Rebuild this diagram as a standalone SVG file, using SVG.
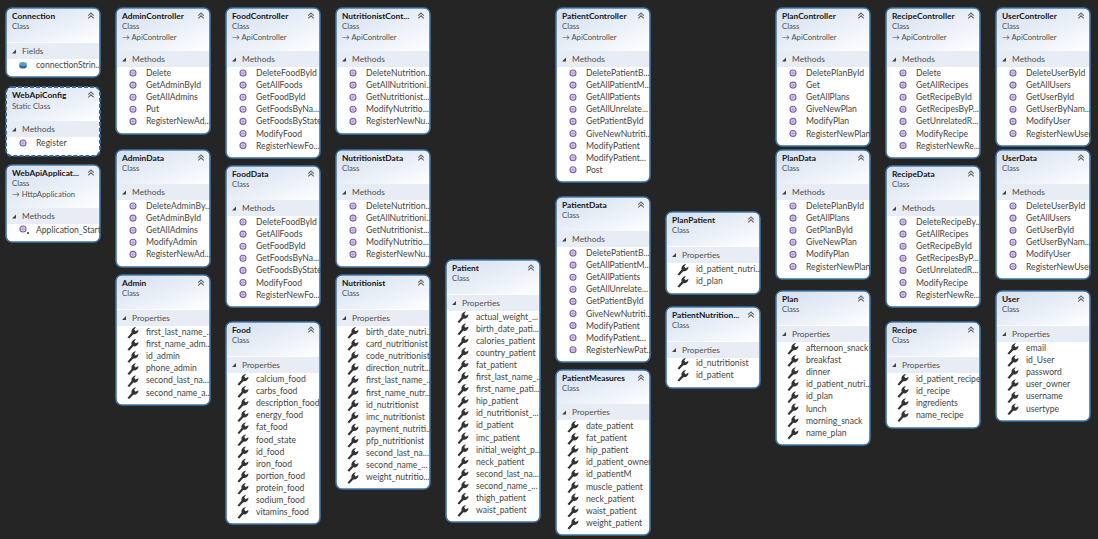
<svg xmlns="http://www.w3.org/2000/svg" width="1098" height="539" viewBox="0 0 1098 539">
<style>
text{font-family:"Lato","Open Sans","Liberation Sans",sans-serif;fill:#444;font-size:8.6px}
.t{font-weight:700;fill:#161616;font-size:8.4px}
.c{font-size:7.7px;fill:#505050}
.s{font-size:8.4px;fill:#505050}
.b{fill:#fff;stroke:#3f76a8;stroke-width:1.6}
.d{stroke-dasharray:4 2;stroke:#2f6aa3;stroke-width:2}
.bd{fill:#e8edf5}
</style>
<defs>
<linearGradient id="hg" x1="0" y1="0" x2="1" y2="1"><stop offset="0" stop-color="#d3dff0"/><stop offset="0.75" stop-color="#f3f6fb"/><stop offset="1" stop-color="#fff"/></linearGradient>
<path id="h34" fill="url(#hg)" d="M1 34V6a5 5 0 0 1 5-5H88a5 5 0 0 1 5 5V34Z"/>
<path id="h43" fill="url(#hg)" d="M1 43V6a5 5 0 0 1 5-5H88a5 5 0 0 1 5 5V43Z"/>
<g id="ch" fill="none" stroke="#666" stroke-width="1.1"><path d="M82.2 7.6L85 5L87.8 7.6"/><path d="M82.2 10.4L85 7.8L87.8 10.4"/></g>
<path id="tr" fill="#444" d="M10 -2V2H6Z"/>
<g id="m"><circle r="3" fill="#e4dcef" stroke="#7b5ea7" stroke-width="1.1"/><path d="M-2.2 0H2.2M0 -2V2" stroke="#9a84bd" stroke-width=".7"/></g>
<path id="w" fill="#333" d="M-5.500 5.500L-1.400 0.600C-2 -1.600 -0.800 -4.400 3 -5L1.200 -2.600L2.600 -0.800L5.500 -2.200C5.500 1.200 2.600 2.800 0.300 2.200L-3.800 6.600Z"/>
<g id="f"><ellipse cy="1" rx="3.800" ry="2.600" fill="#2a6f9f"/><ellipse cy="-1" rx="3.800" ry="2" fill="#5a9ccc"/></g>
</defs>
<rect width="1098" height="539" fill="#252526"/>
<g id="connectors"/>

<g id="Connection" transform="translate(6 8)"><rect class="b" width="94" height="69" rx="6"/><use href="#h34"/><use href="#ch"/><rect class="bd" x="1" y="35" width="92" height="16"/><use href="#tr" y="43.500"/>
<text class="t" x="6" y="11">Connection</text><text class="c" x="6" y="21">Class</text><text class="s" x="16" y="46">Fields</text>
<use href="#f" x="17" y="57"/><text x="30" y="60">connectionStrin...</text></g>

<g id="WebApiConfig" transform="translate(6 87)"><rect class="b d" width="94" height="69" rx="6"/><use href="#h34"/><use href="#ch"/><rect class="bd" x="1" y="34" width="92" height="16"/><use href="#tr" y="42.500"/>
<text class="t" x="6" y="11">WebApiConfig</text><text class="c" x="6" y="22">Static Class</text><text class="s" x="16" y="45">Methods</text>
<use href="#m" x="17" y="56"/><text x="30" y="59">Register</text></g>

<g id="WebApiApplication" transform="translate(6 165)"><rect class="b" width="94" height="77" rx="6"/><use href="#h43"/><use href="#ch"/><rect class="bd" x="1" y="43" width="92" height="16"/><use href="#tr" y="51.500"/>
<text class="t" x="6" y="11">WebApiApplicat...</text><text class="c" x="6" y="21">Class</text><text class="c" x="6" y="31.500">→ HttpApplication</text><text class="s" x="16" y="54">Methods</text>
<use href="#m" x="17" y="64"/><circle cx="22" cy="68" r="1" fill="#333"/><text x="30" y="68">Application_Start</text></g>

<g id="AdminController" transform="translate(116 8)"><rect class="b" width="94" height="126" rx="6"/><use href="#h43"/><use href="#ch"/><rect class="bd" x="1" y="43" width="92" height="16"/><use href="#tr" y="51.500"/>
<text class="t" x="6" y="11">AdminController</text><text class="c" x="6" y="21">Class</text><text class="c" x="6" y="31.500">→ ApiController</text><text class="s" x="16" y="54">Methods</text>
<use href="#m" x="17" y="65"/><text x="30" y="68">Delete</text>
<use href="#m" x="17" y="77.100"/><text x="30" y="80.100">GetAdminById</text>
<use href="#m" x="17" y="89.200"/><text x="30" y="92.200">GetAllAdmins</text>
<use href="#m" x="17" y="101.300"/><text x="30" y="104.300">Put</text>
<use href="#m" x="17" y="113.400"/><text x="30" y="116.400">RegisterNewAd...</text></g>

<g id="AdminData" transform="translate(116 150)"><rect class="b" width="94" height="117" rx="6"/><use href="#h34"/><use href="#ch"/><rect class="bd" x="1" y="34" width="92" height="16"/><use href="#tr" y="42.500"/>
<text class="t" x="6" y="11">AdminData</text><text class="c" x="6" y="21">Class</text><text class="s" x="16" y="45">Methods</text>
<use href="#m" x="17" y="56"/><text x="30" y="59">DeleteAdminBy...</text>
<use href="#m" x="17" y="68.100"/><text x="30" y="71.100">GetAdminById</text>
<use href="#m" x="17" y="80.200"/><text x="30" y="83.200">GetAllAdmins</text>
<use href="#m" x="17" y="92.300"/><text x="30" y="95.300">ModifyAdmin</text>
<use href="#m" x="17" y="104.400"/><text x="30" y="107.400">RegisterNewAd...</text></g>

<g id="Admin" transform="translate(116 275)"><rect class="b" width="94" height="130" rx="6"/><use href="#h34"/><use href="#ch"/><rect class="bd" x="1" y="35" width="92" height="16"/><use href="#tr" y="43"/>
<text class="t" x="6" y="11">Admin</text><text class="c" x="6" y="21">Class</text><text class="s" x="16" y="45.500">Properties</text>
<use href="#w" x="17" y="57"/><text x="30" y="60">first_last_name_...</text>
<use href="#w" x="17" y="69.100"/><text x="30" y="72.100">first_name_adm...</text>
<use href="#w" x="17" y="81.200"/><text x="30" y="84.200">id_admin</text>
<use href="#w" x="17" y="93.300"/><text x="30" y="96.300">phone_admin</text>
<use href="#w" x="17" y="105.400"/><text x="30" y="108.400">second_last_na...</text>
<use href="#w" x="17" y="117.500"/><text x="30" y="120.500">second_name_a...</text></g>

<g id="FoodController" transform="translate(226 8)"><rect class="b" width="94" height="150" rx="6"/><use href="#h43"/><use href="#ch"/><rect class="bd" x="1" y="43" width="92" height="16"/><use href="#tr" y="51.500"/>
<text class="t" x="6" y="11">FoodController</text><text class="c" x="6" y="21">Class</text><text class="c" x="6" y="31.500">→ ApiController</text><text class="s" x="16" y="54">Methods</text>
<use href="#m" x="17" y="65"/><text x="30" y="68">DeleteFoodById</text>
<use href="#m" x="17" y="77.100"/><text x="30" y="80.100">GetAllFoods</text>
<use href="#m" x="17" y="89.200"/><text x="30" y="92.200">GetFoodById</text>
<use href="#m" x="17" y="101.300"/><text x="30" y="104.300">GetFoodsByNa...</text>
<use href="#m" x="17" y="113.400"/><text x="30" y="116.400">GetFoodsByState</text>
<use href="#m" x="17" y="125.500"/><text x="30" y="128.500">ModifyFood</text>
<use href="#m" x="17" y="137.600"/><text x="30" y="140.600">RegisterNewFo...</text></g>

<g id="FoodData" transform="translate(226 166)"><rect class="b" width="94" height="141" rx="6"/><use href="#h34"/><use href="#ch"/><rect class="bd" x="1" y="34" width="92" height="16"/><use href="#tr" y="42.500"/>
<text class="t" x="6" y="11">FoodData</text><text class="c" x="6" y="21">Class</text><text class="s" x="16" y="45">Methods</text>
<use href="#m" x="17" y="56"/><text x="30" y="59">DeleteFoodById</text>
<use href="#m" x="17" y="68.100"/><text x="30" y="71.100">GetAllFoods</text>
<use href="#m" x="17" y="80.200"/><text x="30" y="83.200">GetFoodById</text>
<use href="#m" x="17" y="92.300"/><text x="30" y="95.300">GetFoodsByNa...</text>
<use href="#m" x="17" y="104.400"/><text x="30" y="107.400">GetFoodsByState</text>
<use href="#m" x="17" y="116.500"/><text x="30" y="119.500">ModifyFood</text>
<use href="#m" x="17" y="128.600"/><text x="30" y="131.600">RegisterNewFo...</text></g>

<g id="Food" transform="translate(226 322)"><rect class="b" width="94" height="202" rx="6"/><use href="#h34"/><use href="#ch"/><rect class="bd" x="1" y="35" width="92" height="16"/><use href="#tr" y="43"/>
<text class="t" x="6" y="11">Food</text><text class="c" x="6" y="21">Class</text><text class="s" x="16" y="45.500">Properties</text>
<use href="#w" x="17" y="57"/><text x="30" y="60">calcium_food</text>
<use href="#w" x="17" y="69.100"/><text x="30" y="72.100">carbs_food</text>
<use href="#w" x="17" y="81.200"/><text x="30" y="84.200">description_food</text>
<use href="#w" x="17" y="93.300"/><text x="30" y="96.300">energy_food</text>
<use href="#w" x="17" y="105.400"/><text x="30" y="108.400">fat_food</text>
<use href="#w" x="17" y="117.500"/><text x="30" y="120.500">food_state</text>
<use href="#w" x="17" y="129.600"/><text x="30" y="132.600">id_food</text>
<use href="#w" x="17" y="141.700"/><text x="30" y="144.700">iron_food</text>
<use href="#w" x="17" y="153.800"/><text x="30" y="156.800">portion_food</text>
<use href="#w" x="17" y="165.900"/><text x="30" y="168.900">protein_food</text>
<use href="#w" x="17" y="178"/><text x="30" y="181">sodium_food</text>
<use href="#w" x="17" y="190.100"/><text x="30" y="193.100">vitamins_food</text></g>

<g id="NutritionistController" transform="translate(336 8)"><rect class="b" width="94" height="126" rx="6"/><use href="#h43"/><use href="#ch"/><rect class="bd" x="1" y="43" width="92" height="16"/><use href="#tr" y="51.500"/>
<text class="t" x="6" y="11">NutritionistCont...</text><text class="c" x="6" y="21">Class</text><text class="c" x="6" y="31.500">→ ApiController</text><text class="s" x="16" y="54">Methods</text>
<use href="#m" x="17" y="65"/><text x="30" y="68">DeleteNutrition...</text>
<use href="#m" x="17" y="77.100"/><text x="30" y="80.100">GetAllNutritioni...</text>
<use href="#m" x="17" y="89.200"/><text x="30" y="92.200">GetNutritionist...</text>
<use href="#m" x="17" y="101.300"/><text x="30" y="104.300">ModifyNutritio...</text>
<use href="#m" x="17" y="113.400"/><text x="30" y="116.400">RegisterNewNu...</text></g>

<g id="NutritionistData" transform="translate(336 150)"><rect class="b" width="94" height="117" rx="6"/><use href="#h34"/><use href="#ch"/><rect class="bd" x="1" y="34" width="92" height="16"/><use href="#tr" y="42.500"/>
<text class="t" x="6" y="11">NutritionistData</text><text class="c" x="6" y="21">Class</text><text class="s" x="16" y="45">Methods</text>
<use href="#m" x="17" y="56"/><text x="30" y="59">DeleteNutrition...</text>
<use href="#m" x="17" y="68.100"/><text x="30" y="71.100">GetAllNutritioni...</text>
<use href="#m" x="17" y="80.200"/><text x="30" y="83.200">GetNutritionist...</text>
<use href="#m" x="17" y="92.300"/><text x="30" y="95.300">ModifyNutritio...</text>
<use href="#m" x="17" y="104.400"/><text x="30" y="107.400">RegisterNewNu...</text></g>

<g id="Nutritionist" transform="translate(336 275)"><rect class="b" width="94" height="214" rx="6"/><use href="#h34"/><use href="#ch"/><rect class="bd" x="1" y="35" width="92" height="16"/><use href="#tr" y="43"/>
<text class="t" x="6" y="11">Nutritionist</text><text class="c" x="6" y="21">Class</text><text class="s" x="16" y="45.500">Properties</text>
<use href="#w" x="17" y="57"/><text x="30" y="60">birth_date_nutri...</text>
<use href="#w" x="17" y="69.100"/><text x="30" y="72.100">card_nutritionist</text>
<use href="#w" x="17" y="81.200"/><text x="30" y="84.200">code_nutritionist</text>
<use href="#w" x="17" y="93.300"/><text x="30" y="96.300">direction_nutrit...</text>
<use href="#w" x="17" y="105.400"/><text x="30" y="108.400">first_last_name_...</text>
<use href="#w" x="17" y="117.500"/><text x="30" y="120.500">first_name_nutr...</text>
<use href="#w" x="17" y="129.600"/><text x="30" y="132.600">id_nutritionist</text>
<use href="#w" x="17" y="141.700"/><text x="30" y="144.700">imc_nutritionist</text>
<use href="#w" x="17" y="153.800"/><text x="30" y="156.800">payment_nutriti...</text>
<use href="#w" x="17" y="165.900"/><text x="30" y="168.900">pfp_nutritionist</text>
<use href="#w" x="17" y="178"/><text x="30" y="181">second_last_na...</text>
<use href="#w" x="17" y="190.100"/><text x="30" y="193.100">second_name_...</text>
<use href="#w" x="17" y="202.200"/><text x="30" y="205.200">weight_nutritio...</text></g>

<g id="Patient" transform="translate(446 260)"><rect class="b" width="94" height="262" rx="6"/><use href="#h34"/><use href="#ch"/><rect class="bd" x="1" y="35" width="92" height="16"/><use href="#tr" y="43"/>
<text class="t" x="6" y="11">Patient</text><text class="c" x="6" y="21">Class</text><text class="s" x="16" y="45.500">Properties</text>
<use href="#w" x="17" y="56.500"/><text x="30" y="59.500">actual_weight_...</text>
<use href="#w" x="17" y="68.600"/><text x="30" y="71.600">birth_date_pati...</text>
<use href="#w" x="17" y="80.700"/><text x="30" y="83.700">calories_patient</text>
<use href="#w" x="17" y="92.800"/><text x="30" y="95.800">country_patient</text>
<use href="#w" x="17" y="104.900"/><text x="30" y="107.900">fat_patient</text>
<use href="#w" x="17" y="117"/><text x="30" y="120">first_last_name_...</text>
<use href="#w" x="17" y="129.100"/><text x="30" y="132.100">first_name_pati...</text>
<use href="#w" x="17" y="141.200"/><text x="30" y="144.200">hip_patient</text>
<use href="#w" x="17" y="153.300"/><text x="30" y="156.300">id_nutritionist_...</text>
<use href="#w" x="17" y="165.400"/><text x="30" y="168.400">id_patient</text>
<use href="#w" x="17" y="177.500"/><text x="30" y="180.500">imc_patient</text>
<use href="#w" x="17" y="189.600"/><text x="30" y="192.600">initial_weight_p...</text>
<use href="#w" x="17" y="201.700"/><text x="30" y="204.700">neck_patient</text>
<use href="#w" x="17" y="213.800"/><text x="30" y="216.800">second_last_na...</text>
<use href="#w" x="17" y="225.900"/><text x="30" y="228.900">second_name_...</text>
<use href="#w" x="17" y="238"/><text x="30" y="241">thigh_patient</text>
<use href="#w" x="17" y="250.100"/><text x="30" y="253.100">waist_patient</text></g>

<g id="PatientController" transform="translate(556 8)"><rect class="b" width="94" height="174" rx="6"/><use href="#h43"/><use href="#ch"/><rect class="bd" x="1" y="43" width="92" height="16"/><use href="#tr" y="51.500"/>
<text class="t" x="6" y="11">PatientController</text><text class="c" x="6" y="21">Class</text><text class="c" x="6" y="31.500">→ ApiController</text><text class="s" x="16" y="54">Methods</text>
<use href="#m" x="17" y="65"/><text x="30" y="68">DeletePatientB...</text>
<use href="#m" x="17" y="77.100"/><text x="30" y="80.100">GetAllPatientM...</text>
<use href="#m" x="17" y="89.200"/><text x="30" y="92.200">GetAllPatients</text>
<use href="#m" x="17" y="101.300"/><text x="30" y="104.300">GetAllUnrelate...</text>
<use href="#m" x="17" y="113.400"/><text x="30" y="116.400">GetPatientById</text>
<use href="#m" x="17" y="125.500"/><text x="30" y="128.500">GiveNewNutriti...</text>
<use href="#m" x="17" y="137.600"/><text x="30" y="140.600">ModifyPatient</text>
<use href="#m" x="17" y="149.700"/><text x="30" y="152.700">ModifyPatient...</text>
<use href="#m" x="17" y="161.800"/><text x="30" y="164.800">Post</text></g>

<g id="PatientData" transform="translate(556 197)"><rect class="b" width="94" height="165" rx="6"/><use href="#h34"/><use href="#ch"/><rect class="bd" x="1" y="34" width="92" height="16"/><use href="#tr" y="42.500"/>
<text class="t" x="6" y="11">PatientData</text><text class="c" x="6" y="21">Class</text><text class="s" x="16" y="45">Methods</text>
<use href="#m" x="17" y="56"/><text x="30" y="59">DeletePatientB...</text>
<use href="#m" x="17" y="68.100"/><text x="30" y="71.100">GetAllPatientM...</text>
<use href="#m" x="17" y="80.200"/><text x="30" y="83.200">GetAllPatients</text>
<use href="#m" x="17" y="92.300"/><text x="30" y="95.300">GetAllUnrelate...</text>
<use href="#m" x="17" y="104.400"/><text x="30" y="107.400">GetPatientById</text>
<use href="#m" x="17" y="116.500"/><text x="30" y="119.500">GiveNewNutriti...</text>
<use href="#m" x="17" y="128.600"/><text x="30" y="131.600">ModifyPatient</text>
<use href="#m" x="17" y="140.700"/><text x="30" y="143.700">ModifyPatient...</text>
<use href="#m" x="17" y="152.800"/><text x="30" y="155.800">RegisterNewPat...</text></g>

<g id="PatientMeasures" transform="translate(556 370)"><rect class="b" width="94" height="165" rx="6"/><use href="#h34"/><use href="#ch"/><rect class="bd" x="1" y="34" width="92" height="16"/><use href="#tr" y="42.500"/>
<text class="t" x="6" y="11">PatientMeasures</text><text class="c" x="6" y="21">Class</text><text class="s" x="16" y="45">Properties</text>
<use href="#w" x="17" y="56"/><text x="30" y="59">date_patient</text>
<use href="#w" x="17" y="68.100"/><text x="30" y="71.100">fat_patient</text>
<use href="#w" x="17" y="80.200"/><text x="30" y="83.200">hip_patient</text>
<use href="#w" x="17" y="92.300"/><text x="30" y="95.300">id_patient_owner</text>
<use href="#w" x="17" y="104.400"/><text x="30" y="107.400">id_patientM</text>
<use href="#w" x="17" y="116.500"/><text x="30" y="119.500">muscle_patient</text>
<use href="#w" x="17" y="128.600"/><text x="30" y="131.600">neck_patient</text>
<use href="#w" x="17" y="140.700"/><text x="30" y="143.700">waist_patient</text>
<use href="#w" x="17" y="152.800"/><text x="30" y="155.800">weight_patient</text></g>

<g id="PlanPatient" transform="translate(666 212)"><rect class="b" width="94" height="82" rx="6"/><use href="#h34"/><use href="#ch"/><rect class="bd" x="1" y="35" width="92" height="16"/><use href="#tr" y="43"/>
<text class="t" x="6" y="11">PlanPatient</text><text class="c" x="6" y="21">Class</text><text class="s" x="16" y="45.500">Properties</text>
<use href="#w" x="17" y="57"/><text x="30" y="60">id_patient_nutri...</text>
<use href="#w" x="17" y="69"/><text x="30" y="72">id_plan</text></g>

<g id="PatientNutritionist" transform="translate(666 307)"><rect class="b" width="94" height="81" rx="6"/><use href="#h34"/><use href="#ch"/><rect class="bd" x="1" y="35" width="92" height="16"/><use href="#tr" y="43"/>
<text class="t" x="6" y="11">PatientNutrition...</text><text class="c" x="6" y="21">Class</text><text class="s" x="16" y="45.500">Properties</text>
<use href="#w" x="17" y="56"/><text x="30" y="59">id_nutritionist</text>
<use href="#w" x="17" y="68"/><text x="30" y="71">id_patient</text></g>

<g id="PlanController" transform="translate(776 8)"><rect class="b" width="94" height="138" rx="6"/><use href="#h43"/><use href="#ch"/><rect class="bd" x="1" y="43" width="92" height="16"/><use href="#tr" y="51.500"/>
<text class="t" x="6" y="11">PlanController</text><text class="c" x="6" y="21">Class</text><text class="c" x="6" y="31.500">→ ApiController</text><text class="s" x="16" y="54">Methods</text>
<use href="#m" x="17" y="65"/><text x="30" y="68">DeletePlanById</text>
<use href="#m" x="17" y="77.100"/><text x="30" y="80.100">Get</text>
<use href="#m" x="17" y="89.200"/><text x="30" y="92.200">GetAllPlans</text>
<use href="#m" x="17" y="101.300"/><text x="30" y="104.300">GiveNewPlan</text>
<use href="#m" x="17" y="113.400"/><text x="30" y="116.400">ModifyPlan</text>
<use href="#m" x="17" y="125.500"/><text x="30" y="128.500">RegisterNewPlan</text></g>

<g id="PlanData" transform="translate(776 150)"><rect class="b" width="94" height="129" rx="6"/><use href="#h34"/><use href="#ch"/><rect class="bd" x="1" y="34" width="92" height="16"/><use href="#tr" y="42.500"/>
<text class="t" x="6" y="11">PlanData</text><text class="c" x="6" y="21">Class</text><text class="s" x="16" y="45">Methods</text>
<use href="#m" x="17" y="56"/><text x="30" y="59">DeletePlanById</text>
<use href="#m" x="17" y="68.100"/><text x="30" y="71.100">GetAllPlans</text>
<use href="#m" x="17" y="80.200"/><text x="30" y="83.200">GetPlanById</text>
<use href="#m" x="17" y="92.300"/><text x="30" y="95.300">GiveNewPlan</text>
<use href="#m" x="17" y="104.400"/><text x="30" y="107.400">ModifyPlan</text>
<use href="#m" x="17" y="116.500"/><text x="30" y="119.500">RegisterNewPlan</text></g>

<g id="Plan" transform="translate(776 291)"><rect class="b" width="94" height="154" rx="6"/><use href="#h34"/><use href="#ch"/><rect class="bd" x="1" y="35" width="92" height="16"/><use href="#tr" y="43"/>
<text class="t" x="6" y="11">Plan</text><text class="c" x="6" y="21">Class</text><text class="s" x="16" y="45.500">Properties</text>
<use href="#w" x="17" y="57"/><text x="30" y="60">afternoon_snack</text>
<use href="#w" x="17" y="69.100"/><text x="30" y="72.100">breakfast</text>
<use href="#w" x="17" y="81.200"/><text x="30" y="84.200">dinner</text>
<use href="#w" x="17" y="93.300"/><text x="30" y="96.300">id_patient_nutri...</text>
<use href="#w" x="17" y="105.400"/><text x="30" y="108.400">id_plan</text>
<use href="#w" x="17" y="117.500"/><text x="30" y="120.500">lunch</text>
<use href="#w" x="17" y="129.600"/><text x="30" y="132.600">morning_snack</text>
<use href="#w" x="17" y="141.700"/><text x="30" y="144.700">name_plan</text></g>

<g id="RecipeController" transform="translate(886 8)"><rect class="b" width="94" height="150" rx="6"/><use href="#h43"/><use href="#ch"/><rect class="bd" x="1" y="43" width="92" height="16"/><use href="#tr" y="51.500"/>
<text class="t" x="6" y="11">RecipeController</text><text class="c" x="6" y="21">Class</text><text class="c" x="6" y="31.500">→ ApiController</text><text class="s" x="16" y="54">Methods</text>
<use href="#m" x="17" y="65"/><text x="30" y="68">Delete</text>
<use href="#m" x="17" y="77.100"/><text x="30" y="80.100">GetAllRecipes</text>
<use href="#m" x="17" y="89.200"/><text x="30" y="92.200">GetRecipeById</text>
<use href="#m" x="17" y="101.300"/><text x="30" y="104.300">GetRecipesByP...</text>
<use href="#m" x="17" y="113.400"/><text x="30" y="116.400">GetUnrelatedR...</text>
<use href="#m" x="17" y="125.500"/><text x="30" y="128.500">ModifyRecipe</text>
<use href="#m" x="17" y="137.600"/><text x="30" y="140.600">RegisterNewRe...</text></g>

<g id="RecipeData" transform="translate(886 166)"><rect class="b" width="94" height="141" rx="6"/><use href="#h34"/><use href="#ch"/><rect class="bd" x="1" y="34" width="92" height="16"/><use href="#tr" y="42.500"/>
<text class="t" x="6" y="11">RecipeData</text><text class="c" x="6" y="21">Class</text><text class="s" x="16" y="45">Methods</text>
<use href="#m" x="17" y="56"/><text x="30" y="59">DeleteRecipeBy...</text>
<use href="#m" x="17" y="68.100"/><text x="30" y="71.100">GetAllRecipes</text>
<use href="#m" x="17" y="80.200"/><text x="30" y="83.200">GetRecipeById</text>
<use href="#m" x="17" y="92.300"/><text x="30" y="95.300">GetRecipesByP...</text>
<use href="#m" x="17" y="104.400"/><text x="30" y="107.400">GetUnrelatedR...</text>
<use href="#m" x="17" y="116.500"/><text x="30" y="119.500">ModifyRecipe</text>
<use href="#m" x="17" y="128.600"/><text x="30" y="131.600">RegisterNewRe...</text></g>

<g id="Recipe" transform="translate(886 322)"><rect class="b" width="94" height="106" rx="6"/><use href="#h34"/><use href="#ch"/><rect class="bd" x="1" y="35" width="92" height="16"/><use href="#tr" y="43"/>
<text class="t" x="6" y="11">Recipe</text><text class="c" x="6" y="21">Class</text><text class="s" x="16" y="45.500">Properties</text>
<use href="#w" x="17" y="57"/><text x="30" y="60">id_patient_recipe</text>
<use href="#w" x="17" y="69.100"/><text x="30" y="72.100">id_recipe</text>
<use href="#w" x="17" y="81.200"/><text x="30" y="84.200">ingredients</text>
<use href="#w" x="17" y="93.300"/><text x="30" y="96.300">name_recipe</text></g>

<g id="UserController" transform="translate(996 8)"><rect class="b" width="94" height="138" rx="6"/><use href="#h43"/><use href="#ch"/><rect class="bd" x="1" y="43" width="92" height="16"/><use href="#tr" y="51.500"/>
<text class="t" x="6" y="11">UserController</text><text class="c" x="6" y="21">Class</text><text class="c" x="6" y="31.500">→ ApiController</text><text class="s" x="16" y="54">Methods</text>
<use href="#m" x="17" y="65"/><text x="30" y="68">DeleteUserById</text>
<use href="#m" x="17" y="77.100"/><text x="30" y="80.100">GetAllUsers</text>
<use href="#m" x="17" y="89.200"/><text x="30" y="92.200">GetUserById</text>
<use href="#m" x="17" y="101.300"/><text x="30" y="104.300">GetUserByNam...</text>
<use href="#m" x="17" y="113.400"/><text x="30" y="116.400">ModifyUser</text>
<use href="#m" x="17" y="125.500"/><text x="30" y="128.500">RegisterNewUser</text></g>

<g id="UserData" transform="translate(996 150)"><rect class="b" width="94" height="129" rx="6"/><use href="#h34"/><use href="#ch"/><rect class="bd" x="1" y="34" width="92" height="16"/><use href="#tr" y="42.500"/>
<text class="t" x="6" y="11">UserData</text><text class="c" x="6" y="21">Class</text><text class="s" x="16" y="45">Methods</text>
<use href="#m" x="17" y="56"/><text x="30" y="59">DeleteUserById</text>
<use href="#m" x="17" y="68.100"/><text x="30" y="71.100">GetAllUsers</text>
<use href="#m" x="17" y="80.200"/><text x="30" y="83.200">GetUserById</text>
<use href="#m" x="17" y="92.300"/><text x="30" y="95.300">GetUserByNam...</text>
<use href="#m" x="17" y="104.400"/><text x="30" y="107.400">ModifyUser</text>
<use href="#m" x="17" y="116.500"/><text x="30" y="119.500">RegisterNewUser</text></g>

<g id="User" transform="translate(996 291)"><rect class="b" width="94" height="130" rx="6"/><use href="#h34"/><use href="#ch"/><rect class="bd" x="1" y="35" width="92" height="16"/><use href="#tr" y="43"/>
<text class="t" x="6" y="11">User</text><text class="c" x="6" y="21">Class</text><text class="s" x="16" y="45.500">Properties</text>
<use href="#w" x="17" y="57"/><text x="30" y="60">email</text>
<use href="#w" x="17" y="69.100"/><text x="30" y="72.100">id_User</text>
<use href="#w" x="17" y="81.200"/><text x="30" y="84.200">password</text>
<use href="#w" x="17" y="93.300"/><text x="30" y="96.300">user_owner</text>
<use href="#w" x="17" y="105.400"/><text x="30" y="108.400">username</text>
<use href="#w" x="17" y="117.500"/><text x="30" y="120.500">usertype</text></g>
</svg>
